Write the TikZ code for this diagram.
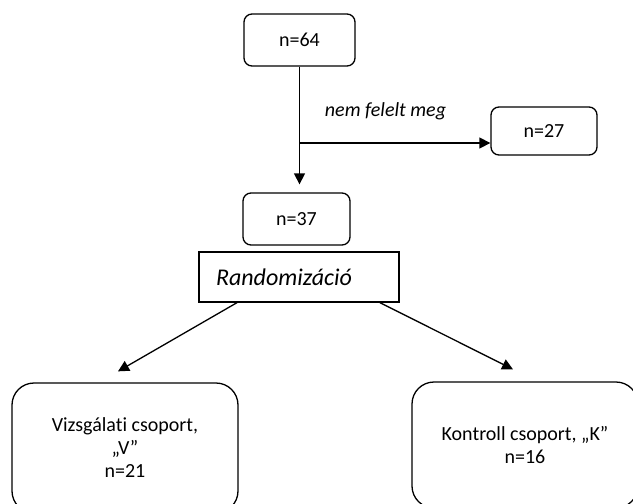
\documentclass[tikz,border=0pt]{standalone}
\usepackage{fontspec}
\setmainfont[Ligatures=NoCommon]{Carlito}
\usetikzlibrary{positioning,arrows.meta}
\tikzstyle{every picture}+=[remember picture]
\tikzstyle{kbox} = [draw,line width=1.3pt,rounded corners=8pt,font=\fontsize{20}{23}\selectfont]
\tikzstyle{csoport} = [draw,line width=1.3pt,rounded corners=22pt,minimum width=226pt,align=center,font=\fontsize{20}{23}\selectfont]
\tikzstyle{nyil} = [line width=1.3pt,-{Triangle[length=11pt,width=11pt]}]

\begin{document}
\begin{tikzpicture}[x=1pt,y=-1pt]
 \useasboundingbox (0,0) rectangle (633,504);
 \clip (0,0) rectangle (633,504);
    % Draw the boxes
    \node[kbox,minimum width=111pt,minimum height=52pt] (n64) at (299.5,40) {n=64};
    \node[kbox,minimum width=106pt,minimum height=48pt] (n27) at (544,131) {n=27};
    \node[kbox,minimum width=107pt,minimum height=52pt] (n37) at (296.5,219) {n=37};
    \node[draw,line width=1.3pt,minimum width=200pt,minimum height=50pt,text width=166pt,inner xsep=17pt,align=left,
        font=\fontsize{24}{28}\selectfont\itshape] (rand) at (299,277) {Randomizáció};

    \node[csoport,minimum height=130pt] (vgroup) at (125,448) {Vizsgálati csoport,\\„V”\\n=21};
    \node[csoport,minimum height=126pt] (kgroup) at (525,445) {Kontroll csoport, „K”\\n=16};

    % Draw the arrows
    \coordinate (split) at (299.5,143);
    \draw[nyil,shorten >=8pt] (n64.south) -- (n64.south |- n37.north);
    \draw[nyil] (split) -- (split -| n27.west);
    \node[anchor=base,font=\fontsize{20}{23}\selectfont\itshape] (nemfelelt) at (385.5,116) {nem felelt meg};

    \draw[nyil] ([xshift=-62pt]rand.south) -- ([xshift=-7pt,yshift=11pt]vgroup.north);
    \draw[nyil] ([xshift=81pt]rand.south) -- ([xshift=-12pt,yshift=12pt]kgroup.north);

\end{tikzpicture}
\end{document}
